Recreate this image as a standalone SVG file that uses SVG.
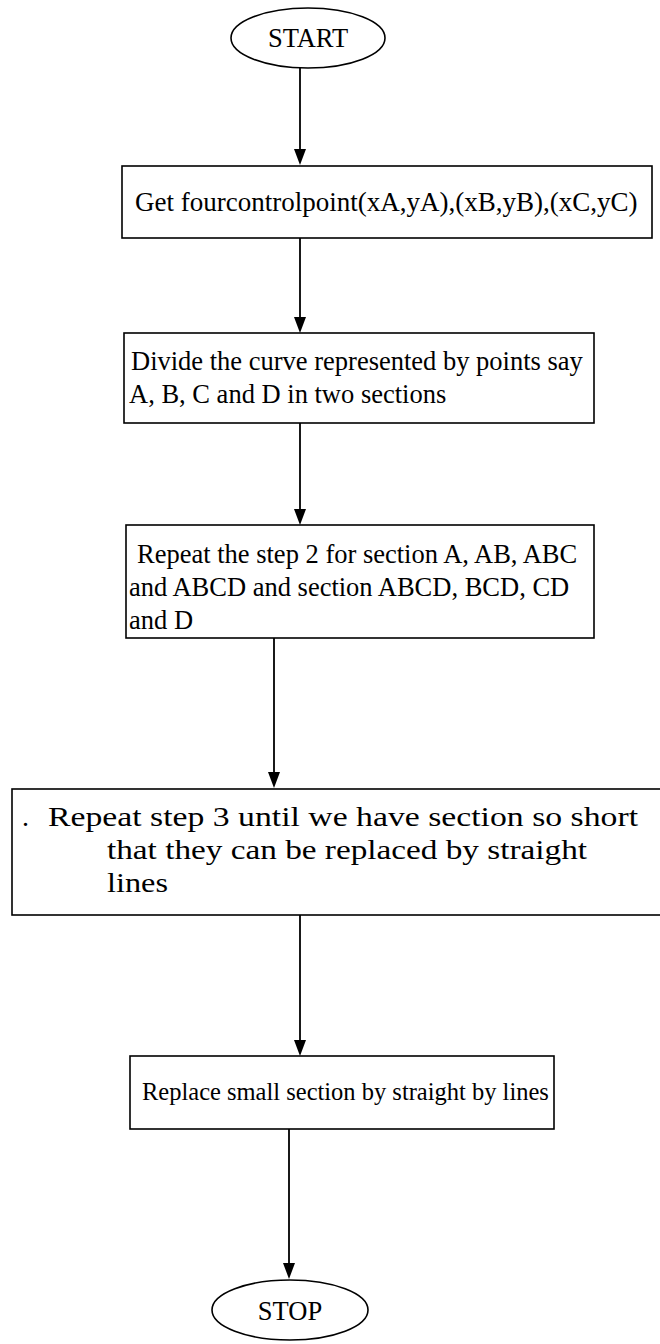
<svg xmlns="http://www.w3.org/2000/svg" width="660" height="1344" viewBox="0 0 660 1344">
  <style>
    .shape { fill: #ffffff; stroke: #000000; stroke-width: 1.6; }
    .label { font-family: "Liberation Serif", "Times New Roman", serif; font-size: 26.5px; fill: #000000; }
    .mid { text-anchor: middle; }
    .wire { stroke: #000000; stroke-width: 1.8; fill: none; }
    .head { fill: #000000; }
  </style>
  <rect width="660" height="1344" fill="#ffffff"/>

  <!-- flow connectors: shaft plus filled arrowhead -->
  <g id="connectors">
    <line class="wire" x1="300" y1="68" x2="300" y2="150"/>
    <path class="head" d="M294,149 L306,149 L300,165 Z"/>
    <line class="wire" x1="300" y1="238" x2="300" y2="318"/>
    <path class="head" d="M294,317 L306,317 L300,333 Z"/>
    <line class="wire" x1="300" y1="423" x2="300" y2="510"/>
    <path class="head" d="M294,509 L306,509 L300,525 Z"/>
    <line class="wire" x1="274" y1="638" x2="274" y2="773"/>
    <path class="head" d="M268,772 L280,772 L274,788 Z"/>
    <line class="wire" x1="300" y1="915" x2="300" y2="1041"/>
    <path class="head" d="M294,1040 L306,1040 L300,1056 Z"/>
    <line class="wire" x1="289" y1="1129" x2="289" y2="1264"/>
    <path class="head" d="M283,1263 L295,1263 L289,1279 Z"/>
  </g>

  <g id="start">
    <ellipse class="shape" cx="308" cy="38" rx="77" ry="30"/>
    <text class="label mid" x="308" y="47">START</text>
  </g>

  <g id="get-points">
    <rect class="shape" x="122" y="166" width="530" height="72"/>
    <text class="label" x="135" y="211" style="font-size:27px">Get fourcontrolpoint(xA,yA),(xB,yB),(xC,yC)</text>
  </g>

  <g id="divide">
    <rect class="shape" x="124" y="333" width="470" height="90"/>
    <text class="label" x="131" y="370"> Divide the curve represented by points say</text>
    <text class="label" x="129" y="403">A, B, C and D in two sections</text>
  </g>

  <g id="repeat-step2">
    <rect class="shape" x="126" y="525" width="468" height="113"/>
    <text class="label" x="137" y="563">Repeat the step 2 for section A, AB, ABC</text>
    <text class="label" x="129" y="596">and ABCD and section ABCD, BCD, CD</text>
    <text class="label" x="129" y="629">and D</text>
  </g>

  <g id="repeat-step3">
    <rect class="shape" x="12" y="789" width="680" height="126"/>
    <text class="label" x="22" y="826" style="font-size:28px">.</text>
    <text class="label" x="48" y="826" style="font-size:28px" textLength="590" lengthAdjust="spacingAndGlyphs">Repeat step 3 until we have section so short</text>
    <text class="label" x="107" y="859" style="font-size:28px" textLength="480" lengthAdjust="spacingAndGlyphs">that they can be replaced by straight</text>
    <text class="label" x="107" y="892" style="font-size:28px" textLength="61" lengthAdjust="spacingAndGlyphs">lines</text>
  </g>

  <g id="replace">
    <rect class="shape" x="130" y="1056" width="424" height="73"/>
    <text class="label" x="142" y="1100" style="font-size:24.5px">Replace small section by straight by lines</text>
  </g>

  <g id="stop">
    <ellipse class="shape" cx="290" cy="1310" rx="78" ry="30"/>
    <text class="label mid" x="290" y="1320">STOP</text>
  </g>
</svg>
